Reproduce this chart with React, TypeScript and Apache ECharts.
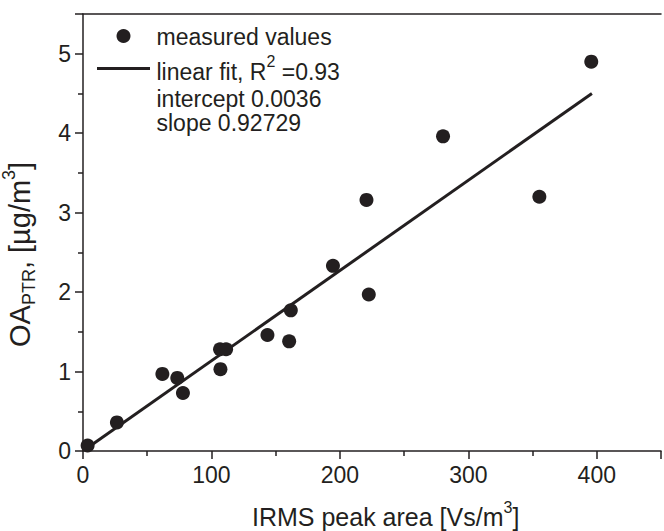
import React, { useEffect, useRef } from "react";
import * as echarts from "echarts";

const measuredX = [3.6, 26.4, 61.8, 73.4, 77.8, 106.7, 107.0, 111.4, 143.6, 160.5, 161.8, 194.6, 220.7, 222.5, 280.3, 355.3, 395.7];
const measuredY = [0.07, 0.36, 0.97, 0.92, 0.73, 1.28, 1.03, 1.28, 1.46, 1.38, 1.77, 2.33, 3.16, 1.97, 3.96, 3.2, 4.9];
const fitX = [3.6, 396.2];
const fitY = [0.04, 4.5];
const xTicks = [0, 100, 200, 300, 400];
const yTicks = [0, 1, 2, 3, 4, 5];

const legendMeasured = "measured values";
const legendFitPre = "linear fit, R";
const legendFitSup = "2";
const legendFitPost = " =0.93";
const legendIntercept = "intercept 0.0036";
const legendSlope = "slope 0.92729";

const xTitleMain = "IRMS peak area [Vs/m";
const xTitleSup = "3";
const xTitleEnd = "]";
const yTitleMain = "OA";
const yTitleSub = "PTR";
const yTitleMid = ", [µg/m";
const yTitleSup = "3";
const yTitleEnd = "]";

const INK = "#231f20";
const FONT = "'Liberation Sans', Arial, Helvetica, sans-serif";

export default function App() {
  const ref = useRef<HTMLDivElement>(null);
  useEffect(() => {
    if (!ref.current) return;
    const chart = echarts.init(ref.current, undefined, { renderer: "svg" });
    const axisLineStyle = { color: INK, width: 1.5 };
    const option: any = {
      animation: false,
      backgroundColor: "#ffffff",
      grid: { left: 83, top: 14, width: 582, height: 437, containLabel: false },
      xAxis: [
        {
          type: "value",
          position: "bottom",
          min: 0,
          max: 450,
          interval: 100,
          axisLine: { show: true, onZero: false, lineStyle: axisLineStyle },
          axisTick: { show: true, inside: false, length: 8, lineStyle: axisLineStyle },
          minorTick: { show: true, splitNumber: 2, length: 5, lineStyle: axisLineStyle },
          splitLine: { show: false },
          minorSplitLine: { show: false },
          axisLabel: {
            fontSize: 23,
            color: INK,
            fontFamily: FONT,
            margin: 12,
            formatter: (v: number) => (xTicks.includes(v) ? String(v) : ""),
          },
        },
        {
          type: "value",
          position: "top",
          min: 0,
          max: 450,
          interval: 100,
          axisLine: { show: true, onZero: false, lineStyle: axisLineStyle },
          axisTick: { show: false },
          axisLabel: { show: false },
          splitLine: { show: false },
        },
      ],
      yAxis: [
        {
          type: "value",
          min: 0,
          max: 5.5,
          interval: 1,
          axisLine: { show: true, onZero: false, lineStyle: axisLineStyle },
          axisTick: { show: true, inside: false, length: 8, lineStyle: axisLineStyle },
          minorTick: { show: true, splitNumber: 2, length: 5, lineStyle: axisLineStyle },
          splitLine: { show: false },
          minorSplitLine: { show: false },
          axisLabel: {
            fontSize: 23,
            color: INK,
            fontFamily: FONT,
            margin: 12,
            formatter: (v: number) => (yTicks.includes(v) ? String(v) : ""),
          },
        },
      ],
      series: [
        {
          type: "line",
          data: fitX.map((x, i) => [x, fitY[i]]),
          showSymbol: false,
          symbol: "none",
          lineStyle: { color: INK, width: 3 },
          z: 2,
        },
        {
          type: "scatter",
          data: measuredX.map((x, i) => [x, measuredY[i]]),
          symbol: "circle",
          symbolSize: 14,
          itemStyle: { color: INK, opacity: 1 },
          z: 3,
        },
      ],
      graphic: [
        { type: "circle", shape: { cx: 123.5, cy: 36, r: 7 }, style: { fill: INK } },
        { type: "line", shape: { x1: 97, y1: 68.5, x2: 150, y2: 68.5 }, style: { stroke: INK, lineWidth: 3 } },
        {
          type: "text",
          x: 156.5,
          y: 37,
          style: { text: legendMeasured, fontSize: 23, fontFamily: FONT, fill: INK, align: "left", verticalAlign: "middle" },
        },
        {
          type: "text",
          x: 156.5,
          y: 71.5,
          style: {
            text: `{a|${legendFitPre}}{s|${legendFitSup}}{a|${legendFitPost}}`,
            align: "left",
            verticalAlign: "middle",
            fill: INK,
            rich: {
              a: { fontSize: 23, fontFamily: FONT, fill: INK, color: INK },
              s: { fontSize: 16, fontFamily: FONT, fill: INK, color: INK, padding: [0, 0, 20, 0] },
            },
          },
        },
        {
          type: "text",
          x: 156.5,
          y: 99,
          style: { text: legendIntercept, fontSize: 23, fontFamily: FONT, fill: INK, align: "left", verticalAlign: "middle" },
        },
        {
          type: "text",
          x: 156.5,
          y: 122.5,
          style: { text: legendSlope, fontSize: 23, fontFamily: FONT, fill: INK, align: "left", verticalAlign: "middle" },
        },
        {
          type: "text",
          x: 252,
          y: 517,
          style: {
            text: `{a|${xTitleMain}}{s|${xTitleSup}}{a|${xTitleEnd}}`,
            align: "left",
            verticalAlign: "middle",
            fill: INK,
            rich: {
              a: { fontSize: 25, fontFamily: FONT, fill: INK, color: INK },
              s: { fontSize: 16, fontFamily: FONT, fill: INK, color: INK, padding: [0, 0, 20, 0] },
            },
          },
        },
        {
          type: "text",
          x: 20,
          y: 347,
          rotation: Math.PI / 2,
          style: {
            text: `{a|${yTitleMain}}{b|${yTitleSub}}{a|${yTitleMid}}{s|${yTitleSup}}{a|${yTitleEnd}}`,
            align: "left",
            verticalAlign: "middle",
            fill: INK,
            rich: {
              a: { fontSize: 29, fontFamily: FONT, fill: INK, color: INK },
              b: { fontSize: 18, fontFamily: FONT, fill: INK, color: INK, padding: [17, 0, 0, 0] },
              s: { fontSize: 18, fontFamily: FONT, fill: INK, color: INK, padding: [0, 0, 22, 0] },
            },
          },
        },
      ],
    };
    chart.setOption(option);
    return () => chart.dispose();
  }, []);
  return (
    <div
      ref={ref}
      style={{ position: "absolute", left: 0, top: 0, width: 664, height: 531, background: "#fff" }}
    />
  );
}
